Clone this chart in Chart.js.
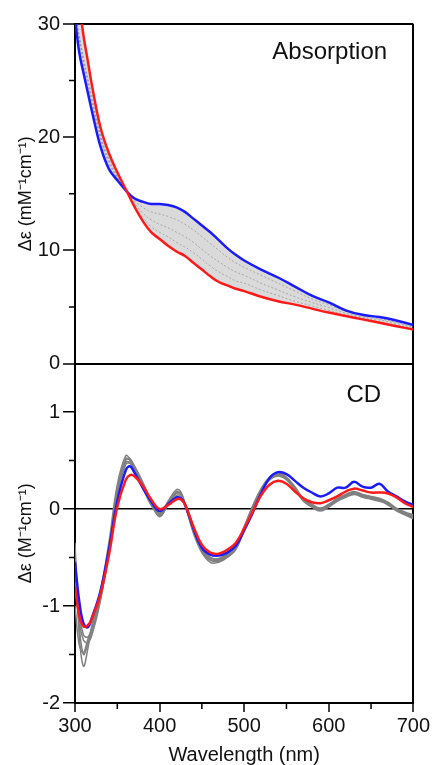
<!DOCTYPE html>
<html>
<head>
<meta charset="utf-8">
<script src="https://cdn.jsdelivr.net/npm/chart.js@4.4.1/dist/chart.umd.min.js"></script>
<style>
  html, body { margin: 0; padding: 0; background: #fff; }
  #wrap { width: 432px; height: 765px; }
</style>
</head>
<body>
<div id="wrap"><canvas id="grafico"></canvas></div>
<script>
// Absorcion (mM-1 cm-1)
var absWl = [300, 305, 310, 315, 320, 330, 340, 350, 360, 370, 380, 390, 400, 410, 420, 430, 440, 450, 460, 470, 480, 490, 500, 520, 540, 560, 580, 600, 620, 640, 660, 680, 700];
var absRojo = [36, 32, 29.0, 26.8, 24.6, 20.9, 18.6, 16.9, 15.4, 13.9, 12.6, 11.6, 11.0, 10.4, 9.9, 9.5, 8.9, 8.3, 7.7, 7.2, 6.9, 6.6, 6.4, 5.9, 5.5, 5.2, 4.85, 4.5, 4.2, 3.9, 3.6, 3.3, 3.0];
var absAzul = [30.5, 27.5, 25.7, 24.0, 22.3, 19.2, 17.2, 16.2, 15.3, 14.6, 14.3, 14.1, 14.1, 14.0, 13.8, 13.4, 12.8, 12.2, 11.6, 10.9, 10.2, 9.6, 9.1, 8.3, 7.6, 6.8, 6.0, 5.4, 4.7, 4.3, 4.1, 3.8, 3.4];
var absGris1 = [31, 28.5, 26.4, 24.7, 23.0, 19.9, 17.7, 16.4, 15.3, 14.4, 13.8, 13.4, 13.2, 13.0, 12.7, 12.3, 11.8, 11.2, 10.6, 10.0, 9.4, 8.9, 8.5, 7.8, 7.1, 6.4, 5.7, 5.2, 4.6, 4.2, 3.95, 3.65, 3.3];
var absGris2 = [31, 28.8, 26.8, 25.0, 23.3, 20.1, 17.9, 16.5, 15.3, 14.2, 13.3, 12.7, 12.3, 12.0, 11.6, 11.2, 10.7, 10.1, 9.5, 9.0, 8.5, 8.1, 7.8, 7.1, 6.5, 5.9, 5.4, 4.95, 4.45, 4.1, 3.85, 3.55, 3.2];
var absGris3 = [31, 29.0, 27.0, 25.3, 23.6, 20.3, 18.1, 16.6, 15.3, 14.0, 12.9, 12.1, 11.6, 11.2, 10.7, 10.3, 9.8, 9.2, 8.6, 8.1, 7.7, 7.3, 7.1, 6.5, 6.0, 5.5, 5.1, 4.7, 4.3, 4.0, 3.7, 3.4, 3.1];

// CD (M-1 cm-1)
var cdWl = [300, 305, 310, 315, 320, 330, 340, 350, 360, 365, 370, 380, 390, 400, 410, 420, 425, 430, 440, 450, 460, 470, 480, 490, 500, 510, 520, 530, 540, 550, 560, 570, 580, 590, 600, 610, 620, 630, 640, 650, 660, 670, 680, 690, 700];
var cdRojo = [-0.80, -1.10, -1.21, -1.20, -1.13, -0.88, -0.48, 0.02, 0.30, 0.35, 0.34, 0.24, 0.10, 0.00, 0.04, 0.10, 0.10, 0.05, -0.18, -0.37, -0.45, -0.46, -0.42, -0.35, -0.20, -0.03, 0.14, 0.25, 0.29, 0.26, 0.18, 0.11, 0.07, 0.06, 0.09, 0.13, 0.18, 0.21, 0.19, 0.17, 0.17, 0.16, 0.12, 0.06, 0.02];
var cdAzul = [-0.55, -0.95, -1.18, -1.22, -1.12, -0.85, -0.42, 0.08, 0.40, 0.44, 0.38, 0.22, 0.08, -0.02, 0.05, 0.12, 0.11, 0.05, -0.20, -0.40, -0.47, -0.48, -0.45, -0.38, -0.22, -0.04, 0.16, 0.32, 0.38, 0.36, 0.29, 0.22, 0.17, 0.13, 0.16, 0.22, 0.22, 0.28, 0.23, 0.22, 0.26, 0.18, 0.13, 0.08, 0.04];
var cdGris1 = [-0.35, -1.30, -1.62, -1.45, -1.20, -0.85, -0.35, 0.25, 0.55, 0.52, 0.45, 0.28, 0.08, -0.08, 0.05, 0.18, 0.16, 0.05, -0.25, -0.45, -0.55, -0.55, -0.50, -0.42, -0.22, 0.00, 0.18, 0.30, 0.34, 0.30, 0.20, 0.08, 0.02, -0.02, 0.02, 0.08, 0.12, 0.15, 0.12, 0.10, 0.08, 0.05, -0.02, -0.06, -0.10];
var cdGris2 = [-0.55, -1.20, -1.50, -1.40, -1.25, -0.90, -0.40, 0.20, 0.52, 0.50, 0.42, 0.25, 0.06, -0.06, 0.06, 0.16, 0.15, 0.04, -0.22, -0.42, -0.52, -0.53, -0.48, -0.40, -0.20, 0.02, 0.20, 0.32, 0.36, 0.32, 0.22, 0.10, 0.04, 0.00, 0.04, 0.10, 0.14, 0.17, 0.14, 0.12, 0.10, 0.06, 0.00, -0.04, -0.08];
var cdGris3 = [-0.75, -1.15, -1.35, -1.38, -1.30, -0.95, -0.45, 0.15, 0.48, 0.48, 0.40, 0.22, 0.04, -0.05, 0.08, 0.20, 0.18, 0.06, -0.20, -0.40, -0.50, -0.51, -0.46, -0.38, -0.18, 0.03, 0.21, 0.33, 0.37, 0.33, 0.23, 0.11, 0.05, 0.01, 0.05, 0.11, 0.15, 0.18, 0.15, 0.13, 0.11, 0.07, 0.01, -0.03, -0.06];
var cdGris4 = [-1.00, -1.40, -1.48, -1.35, -1.22, -0.92, -0.42, 0.18, 0.50, 0.51, 0.44, 0.26, 0.07, -0.04, 0.06, 0.17, 0.16, 0.05, -0.23, -0.44, -0.53, -0.54, -0.49, -0.41, -0.21, 0.01, 0.19, 0.31, 0.35, 0.31, 0.21, 0.09, 0.03, -0.01, 0.03, 0.09, 0.13, 0.16, 0.13, 0.11, 0.09, 0.04, -0.01, -0.05, -0.09];
var cdGris5 = [-0.45, -1.05, -1.30, -1.32, -1.25, -0.93, -0.44, 0.16, 0.46, 0.47, 0.41, 0.24, 0.05, -0.07, 0.04, 0.14, 0.13, 0.03, -0.21, -0.41, -0.50, -0.52, -0.47, -0.39, -0.19, 0.02, 0.20, 0.31, 0.35, 0.31, 0.21, 0.10, 0.04, 0.00, 0.04, 0.10, 0.14, 0.16, 0.14, 0.12, 0.10, 0.05, 0.00, -0.04, -0.07];

// Ticks
var xTicks = [300, 400, 500, 600, 700];
var xMenores = [350, 450, 550, 650];
var absTicks = [0, 10, 20, 30];
var absMenores = [5, 15, 25];
var cdTicks = [-2, -1, 0, 1];
var cdMenores = [-1.5, -0.5, 0.5];

var fuente = "'Liberation Sans', Arial, sans-serif";

function puntos(xs, ys) {
    var res = [];
    for (let i = 0; i < xs.length; i++) {
        res.push({x: xs[i], y: ys[i]});
    }
    return res;
}

function serie(datos, eje, color, ancho, orden, extra) {
    var ds = {
        data: datos,
        yAxisID: eje,
        borderColor: color,
        borderWidth: ancho,
        pointRadius: 0,
        tension: 0.4,
        fill: false,
        order: orden
    };
    return Object.assign(ds, extra || {});
}

var datasets = [
    serie(puntos(absWl, absRojo), 'yAbs', '#ff1a1a', 2.5, 0),
    serie(puntos(absWl, absAzul), 'yAbs', '#1a1aff', 2.5, 1, {
        fill: {target: 0, above: 'rgba(150,150,150,0.35)', below: 'rgba(150,150,150,0.35)'}
    }),
    serie(puntos(absWl, absGris1), 'yAbs', 'rgba(90,90,90,0.6)', 0.8, 5, {borderDash: [2, 2]}),
    serie(puntos(absWl, absGris2), 'yAbs', 'rgba(90,90,90,0.6)', 0.8, 5, {borderDash: [2, 2]}),
    serie(puntos(absWl, absGris3), 'yAbs', 'rgba(90,90,90,0.6)', 0.8, 5, {borderDash: [2, 2]}),
    serie(puntos(cdWl, cdRojo), 'yCD', '#ff1a1a', 2.5, 0),
    serie(puntos(cdWl, cdAzul), 'yCD', '#1a1aff', 2.5, 1),
    serie(puntos(cdWl, cdGris1), 'yCD', '#808080', 1.5, 4),
    serie(puntos(cdWl, cdGris2), 'yCD', '#808080', 1.5, 4),
    serie(puntos(cdWl, cdGris3), 'yCD', '#808080', 1.5, 4),
    serie(puntos(cdWl, cdGris4), 'yCD', '#808080', 1.5, 4),
    serie(puntos(cdWl, cdGris5), 'yCD', '#808080', 1.5, 4)
];

// ticks menores y rotulos de panel
var extras = {
    id: 'extras',
    afterDraw: function(chart) {
        var ctx = chart.ctx;
        var area = chart.chartArea;
        var sx = chart.scales.x, sa = chart.scales.yAbs, sc = chart.scales.yCD;
        ctx.save();
        ctx.strokeStyle = '#000';
        ctx.lineWidth = 1.5;
        ctx.beginPath();
        xMenores.forEach(function(v) {
            var px = sx.getPixelForValue(v);
            ctx.moveTo(px, area.bottom);
            ctx.lineTo(px, area.bottom + 6);
        });
        absMenores.forEach(function(v) {
            var py = sa.getPixelForValue(v);
            ctx.moveTo(area.left - 6, py);
            ctx.lineTo(area.left, py);
        });
        cdMenores.forEach(function(v) {
            var py = sc.getPixelForValue(v);
            ctx.moveTo(area.left - 6, py);
            ctx.lineTo(area.left, py);
        });
        ctx.stroke();

        ctx.fillStyle = '#111';
        ctx.font = '24px ' + fuente;
        ctx.textAlign = 'right';
        ctx.textBaseline = 'middle';
        ctx.fillText('Absorption', sx.getPixelForValue(669), sa.getPixelForValue(27.5));
        ctx.fillText('CD', sx.getPixelForValue(662), sc.getPixelForValue(1.17));
        ctx.restore();
    }
};

function ticksFijos(lista) {
    return function(scale) {
        scale.ticks = lista.map(function(v) { return {value: v}; });
    };
}

new Chart(document.getElementById('grafico'), {
    type: 'line',
    data: {datasets: datasets},
    options: {
        responsive: true,
        maintainAspectRatio: false,
        animation: false,
        layout: {padding: {left: 8, right: 17, top: 24, bottom: 0}},
        plugins: {legend: {display: false}, tooltip: {enabled: false}},
        scales: {
            x: {
                type: 'linear',
                min: 300,
                max: 700,
                afterBuildTicks: ticksFijos(xTicks),
                afterFit: function(scale) { scale.height = 62; },
                border: {display: true, color: '#000', width: 2},
                grid: {
                    color: function(c) { return c.tick && c.tick.value === 700 ? '#000' : 'rgba(0,0,0,0)'; },
                    lineWidth: 2,
                    tickColor: '#000',
                    tickLength: 9,
                    tickWidth: 1.5
                },
                ticks: {color: '#111', font: {family: fuente, size: 20}, padding: 2, maxRotation: 0},
                title: {display: true, text: 'Wavelength (nm)', color: '#111', font: {family: fuente, size: 20, lineHeight: 1}, padding: {top: 0, bottom: 0}}
            },
            yCD: {
                type: 'linear',
                position: 'left',
                stack: 'paneles',
                stackWeight: 1,
                min: -2,
                max: 1.5,
                afterBuildTicks: ticksFijos(cdTicks),
                afterFit: function(scale) { scale.width = 67; },
                border: {display: true, color: '#000', width: 2},
                grid: {
                    color: function(c) { return c.tick && c.tick.value === 0 ? '#000' : 'rgba(0,0,0,0)'; },
                    lineWidth: 1.5,
                    tickColor: '#000',
                    tickLength: 12,
                    tickWidth: 1.5
                },
                ticks: {color: '#111', font: {family: fuente, size: 20}, padding: 3},
                title: {display: true, text: 'Δε (M⁻¹cm⁻¹)', color: '#111', font: {family: fuente, size: 18}, padding: {top: 7, bottom: 0}}
            },
            yAbs: {
                type: 'linear',
                position: 'left',
                stack: 'paneles',
                stackWeight: 1,
                min: 0,
                max: 30,
                afterBuildTicks: ticksFijos(absTicks),
                afterFit: function(scale) { scale.width = 67; },
                border: {display: true, color: '#000', width: 2},
                grid: {
                    color: function(c) { return c.tick && (c.tick.value === 0 || c.tick.value === 30) ? '#000' : 'rgba(0,0,0,0)'; },
                    lineWidth: 2,
                    tickColor: '#000',
                    tickLength: 12,
                    tickWidth: 1.5
                },
                ticks: {color: '#111', font: {family: fuente, size: 20}, padding: 3},
                title: {display: true, text: 'Δε (mM⁻¹cm⁻¹)', color: '#111', font: {family: fuente, size: 18}, padding: {top: 7, bottom: 0}}
            }
        }
    },
    plugins: [extras]
});
</script>
</body>
</html>
